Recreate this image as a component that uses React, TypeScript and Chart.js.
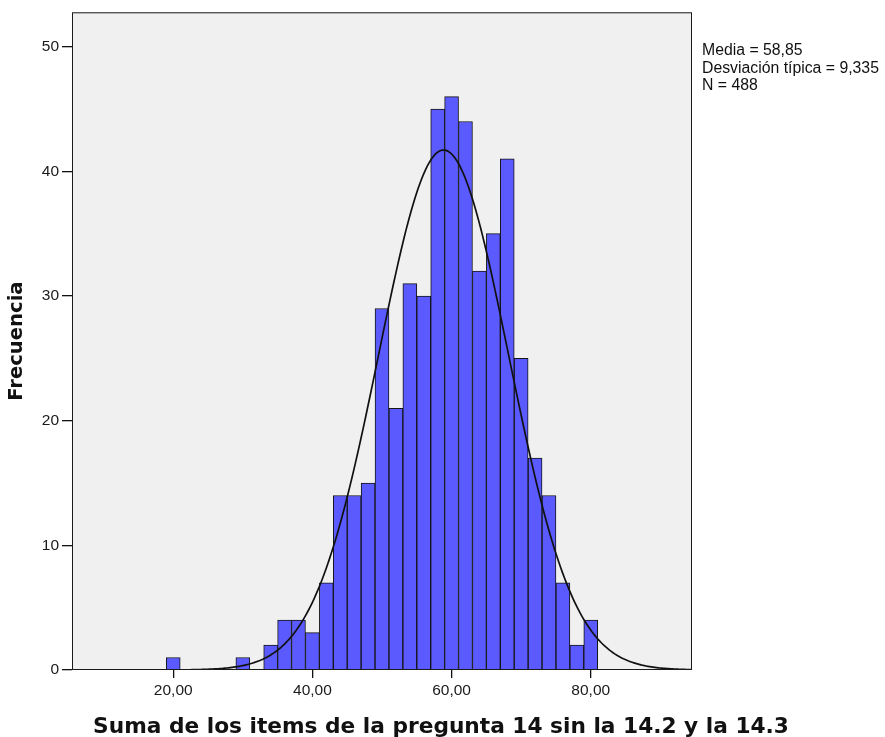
import React, { useEffect, useRef } from 'react';
import { Chart, registerables } from 'chart.js';

Chart.register(...registerables);

// ---- data ----
const BIN_CENTERS = [20, 22, 24, 26, 28, 30, 32, 34, 36, 38, 40, 42, 44, 46, 48, 50, 52, 54, 56, 58, 60, 62, 64, 66, 68, 70, 72, 74, 76, 78, 80];
const COUNTS = [1, 0, 0, 0, 0, 1, 0, 2, 4, 4, 3, 7, 14, 14, 15, 29, 21, 31, 30, 45, 46, 44, 32, 35, 41, 25, 17, 14, 7, 2, 4];
const X_TICKS = [20, 40, 60, 80];
const Y_TICKS = [0, 10, 20, 30, 40, 50];
const MEAN = 58.85;
const SD = 9.335;
const N = 488;
const BIN_WIDTH = 2;
const STATS_LINES = ['Media = 58,85', 'Desviación típica = 9,335', 'N = 488'];
const X_TITLE = 'Suma de los items de la pregunta 14 sin la 14.2 y la 14.3';
const Y_TITLE = 'Frecuencia';
const X_MIN = 5.45;
const X_MAX = 94.55;
const Y_MAX = 52.76;

// fitted normal curve, defined by the statistics shown (mean, sd, N, bin width)
function normalCurve() {
  const pts: { x: number; y: number }[] = [];
  for (let x = X_MIN; x <= X_MAX + 1e-9; x += 0.25) {
    const z = (x - MEAN) / SD;
    pts.push({ x, y: (N * BIN_WIDTH) / (SD * Math.sqrt(2 * Math.PI)) * Math.exp(-0.5 * z * z) });
  }
  return pts;
}

const TICK_FONT = "'Liberation Sans', Arial, sans-serif";
const TITLE_FONT = "'DejaVu Sans', sans-serif";

const framePlugin = {
  id: 'frame',
  beforeDatasetsDraw(chart: any) {
    const { ctx, chartArea: a } = chart;
    ctx.save();
    ctx.fillStyle = '#f0f0f0';
    ctx.fillRect(a.left, a.top, a.right - a.left, a.bottom - a.top);
    ctx.restore();
  },
  afterDraw(chart: any) {
    const { ctx, chartArea: a } = chart;
    ctx.save();
    ctx.strokeStyle = '#1a1a1a';
    ctx.lineWidth = 1;
    ctx.strokeRect(a.left + 0.5, a.top + 0.5, a.right - a.left - 1, a.bottom - a.top - 1);

    ctx.fillStyle = '#111';
    ctx.font = `bold 21.7px ${TITLE_FONT}`;
    ctx.textAlign = 'center';
    ctx.textBaseline = 'alphabetic';
    ctx.fillText(X_TITLE, 441, 733);

    ctx.font = `15.8px ${TICK_FONT}`;
    ctx.textAlign = 'left';
    ctx.fillStyle = '#111';
    STATS_LINES.forEach((t, i) => ctx.fillText(t, 702, 55 + i * 17.5));
    ctx.restore();
  },
};

export default function App() {
  const ref = useRef<HTMLCanvasElement>(null);
  useEffect(() => {
    if (!ref.current) return;
    const chart = new Chart(ref.current, {
      type: 'bar',
      data: {
        datasets: [
          {
            type: 'line',
            data: normalCurve(),
            borderColor: '#111',
            borderWidth: 1.7,
            pointRadius: 0,
            tension: 0,
            fill: false,
            order: 0,
          } as any,
          {
            type: 'bar',
            data: BIN_CENTERS.map((x, i) => ({ x, y: COUNTS[i] })),
            backgroundColor: '#5a5aff',
            borderColor: '#141414',
            borderWidth: 1,
            barPercentage: 1,
            categoryPercentage: 1,
            order: 1,
          } as any,
        ],
      },
      options: {
        responsive: false,
        animation: false,
        devicePixelRatio: 1,
        layout: { padding: { top: 10, right: 193, left: 0, bottom: 0 } },
        plugins: { legend: { display: false }, tooltip: { enabled: false } },
        scales: {
          x: {
            type: 'linear',
            min: X_MIN,
            max: X_MAX,
            offset: false,
            afterBuildTicks: (s: any) => { s.ticks = X_TICKS.map((v) => ({ value: v })); },
            afterFit: (s: any) => { s.height = 67; },
            grid: { drawOnChartArea: false, drawTicks: true, tickLength: 8, color: '#111', lineWidth: 1.3, offset: false },
            border: { display: false },
            ticks: {
              padding: 3,
              color: '#1a1a1a',
              font: { family: TICK_FONT, size: 15.5 },
              maxRotation: 0,
              callback: (v: any) => Number(v).toFixed(2).replace('.', ','),
            },
          },
          y: {
            type: 'linear',
            min: 0,
            max: Y_MAX,
            afterBuildTicks: (s: any) => { s.ticks = Y_TICKS.map((v) => ({ value: v })); },
            afterFit: (s: any) => { s.width = 72; },
            grid: { drawOnChartArea: false, drawTicks: true, tickLength: 10, color: '#111', lineWidth: 1.3 },
            border: { display: false },
            ticks: {
              padding: 3,
              color: '#1a1a1a',
              font: { family: TICK_FONT, size: 15.5 },
              callback: (v: any) => String(v),
            },
            title: {
              display: true,
              text: Y_TITLE,
              color: '#111',
              font: { family: TITLE_FONT, size: 19.6, weight: 'bold' },
              padding: { top: 5, bottom: 0 },
            },
          },
        },
      } as any,
      plugins: [framePlugin],
    });
    return () => chart.destroy();
  }, []);

  return (
    <div style={{ position: 'absolute', left: 0, top: 0, width: 885, height: 737, background: '#fff' }}>
      <canvas ref={ref} width={885} height={737} style={{ display: 'block' }} />
    </div>
  );
}
